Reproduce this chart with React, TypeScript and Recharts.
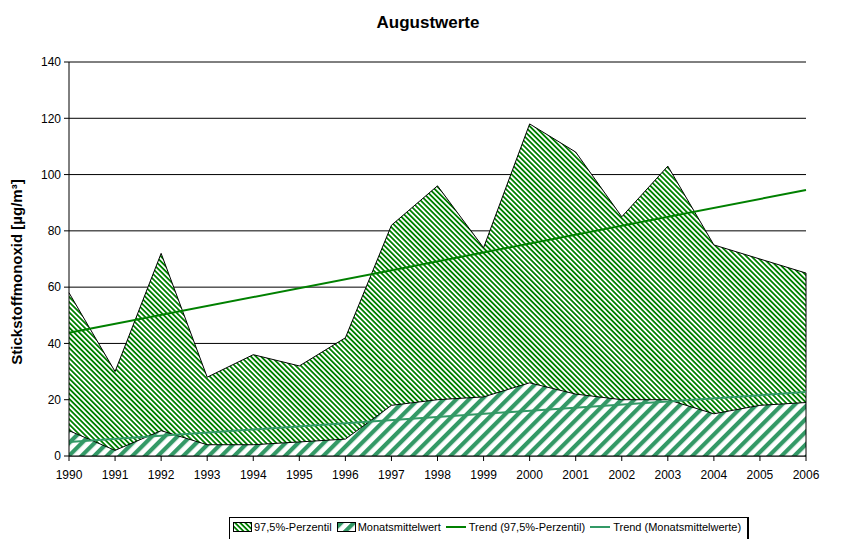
import { ComposedChart, Area, Line, XAxis, YAxis, CartesianGrid, ReferenceLine } from 'recharts';

const years = [1990, 1991, 1992, 1993, 1994, 1995, 1996, 1997, 1998, 1999, 2000, 2001, 2002, 2003, 2004, 2005, 2006];
const perzentil = [58, 30, 72, 28, 36, 32, 42, 82, 96, 74, 118, 108, 85, 103, 75, 70, 65];
const mittel = [9, 2, 9, 4, 4, 5, 6, 18, 20, 21, 26, 22, 20, 20, 15, 18, 19];
// trend lines: values at first and last year
const trendPerzentil = [43.8, 94.5];
const trendMittel = [5, 22.7];
const yTicks = [0, 20, 40, 60, 80, 100, 120, 140];

const last = years.length - 1;
const data = years.map((year, i) => ({
  year,
  perzentil: perzentil[i],
  mittel: mittel[i],
  trendPerzentil: i === 0 ? trendPerzentil[0] : i === last ? trendPerzentil[1] : null,
  trendMittel: i === 0 ? trendMittel[0] : i === last ? trendMittel[1] : null,
}));

const font = '"Liberation Sans", Arial, sans-serif';
const dark = '#008000';
const sea = '#339966';

function Patterns() {
  return (
    <svg width={0} height={0} style={{ position: 'absolute' }}>
      <defs>
        <pattern id="p975" patternUnits="userSpaceOnUse" width={3.6} height={3.6} patternTransform="rotate(-45)">
          <rect width={3.6} height={3.6} fill="#fff" />
          <rect width={1.8} height={3.6} fill={dark} />
        </pattern>
        <pattern id="pmittel" patternUnits="userSpaceOnUse" width={9} height={9} patternTransform="rotate(45)">
          <rect width={9} height={9} fill="#fff" />
          <rect width={4.2} height={9} fill={sea} />
        </pattern>
      </defs>
    </svg>
  );
}

function LegendBox() {
  const item = { display: 'flex', alignItems: 'center', marginRight: 5 } as const;
  const swatch = (id: string) => (
    <span style={{ display: 'inline-block', width: 17, height: 8, border: '1px solid #000', marginRight: 2, position: 'relative', overflow: 'hidden' }}>
      <svg width={17} height={8} style={{ position: 'absolute', left: 0, top: 0 }}>
        <rect width={17} height={8} fill={`url(#${id})`} />
      </svg>
    </span>
  );
  const line = (color: string) => (
    <span style={{ display: 'inline-block', width: 20, height: 2, background: color, marginRight: 3 }} />
  );
  return (
    <div style={{ position: 'absolute', left: 229, top: 517, width: 520, height: 24, border: '1px solid #000', borderRightWidth: 2, display: 'flex', alignItems: 'center', paddingLeft: 3, paddingBottom: 4, boxSizing: 'border-box', fontFamily: font, fontSize: 11, color: '#000', whiteSpace: 'nowrap' }}>
      <div style={item}>{swatch('p975')}97,5%-Perzentil</div>
      <div style={item}>{swatch('pmittel')}Monatsmittelwert</div>
      <div style={item}>{line(dark)}Trend (97,5%-Perzentil)</div>
      <div style={item}>{line(sea)}Trend (Monatsmittelwerte)</div>
    </div>
  );
}

export default function App() {
  return (
    <div style={{ position: 'absolute', left: 0, top: 0, width: 856, height: 539, background: '#fff', overflow: 'hidden' }}>
      <Patterns />
      <ComposedChart width={856} height={539} data={data} margin={{ top: 62, right: 50, left: 0, bottom: 53 }}>
        <CartesianGrid vertical={false} stroke="#000" strokeWidth={1} />
        <XAxis
          dataKey="year"
          type="number"
          domain={[1990, 2006]}
          ticks={years}
          interval={0}
          height={30}
          tickSize={5}
          tickMargin={9}
          axisLine={{ stroke: '#000' }}
          tickLine={{ stroke: '#000' }}
          tick={{ fill: '#000', fontSize: 12, fontFamily: font }}
        />
        <YAxis
          domain={[0, 140]}
          ticks={yTicks}
          interval={0}
          width={69}
          tickSize={5}
          tickMargin={3}
          axisLine={{ stroke: '#000' }}
          tickLine={{ stroke: '#000' }}
          tick={{ fill: '#000', fontSize: 12, fontFamily: font }}
        />
        <Area type="linear" dataKey="perzentil" fill="url(#p975)" fillOpacity={1} stroke="#000" strokeWidth={1} isAnimationActive={false} />
        <Area type="linear" dataKey="mittel" fill="url(#pmittel)" fillOpacity={1} stroke="#000" strokeWidth={1} isAnimationActive={false} />
        <ReferenceLine segment={[{ x: years[last], y: 0 }, { x: years[last], y: perzentil[last] }]} stroke="#000" strokeWidth={1} />
        <Line type="linear" dataKey="trendPerzentil" stroke={dark} strokeWidth={2} dot={false} connectNulls isAnimationActive={false} />
        <Line type="linear" dataKey="trendMittel" stroke={sea} strokeWidth={2} dot={false} connectNulls isAnimationActive={false} />
      </ComposedChart>
      <svg width={856} height={539} style={{ position: 'absolute', left: 0, top: 0, pointerEvents: 'none' }}>
        <text x={428} y={28} textAnchor="middle" fontFamily={font} fontWeight="bold" fontSize={17} fill="#000">Augustwerte</text>
        <text x={22} y={272} textAnchor="middle" fontFamily={font} fontWeight="bold" fontSize={15} fill="#000" transform="rotate(-90 22 272)">Stickstoffmonoxid [µg/m³]</text>
      </svg>
      <LegendBox />
    </div>
  );
}
